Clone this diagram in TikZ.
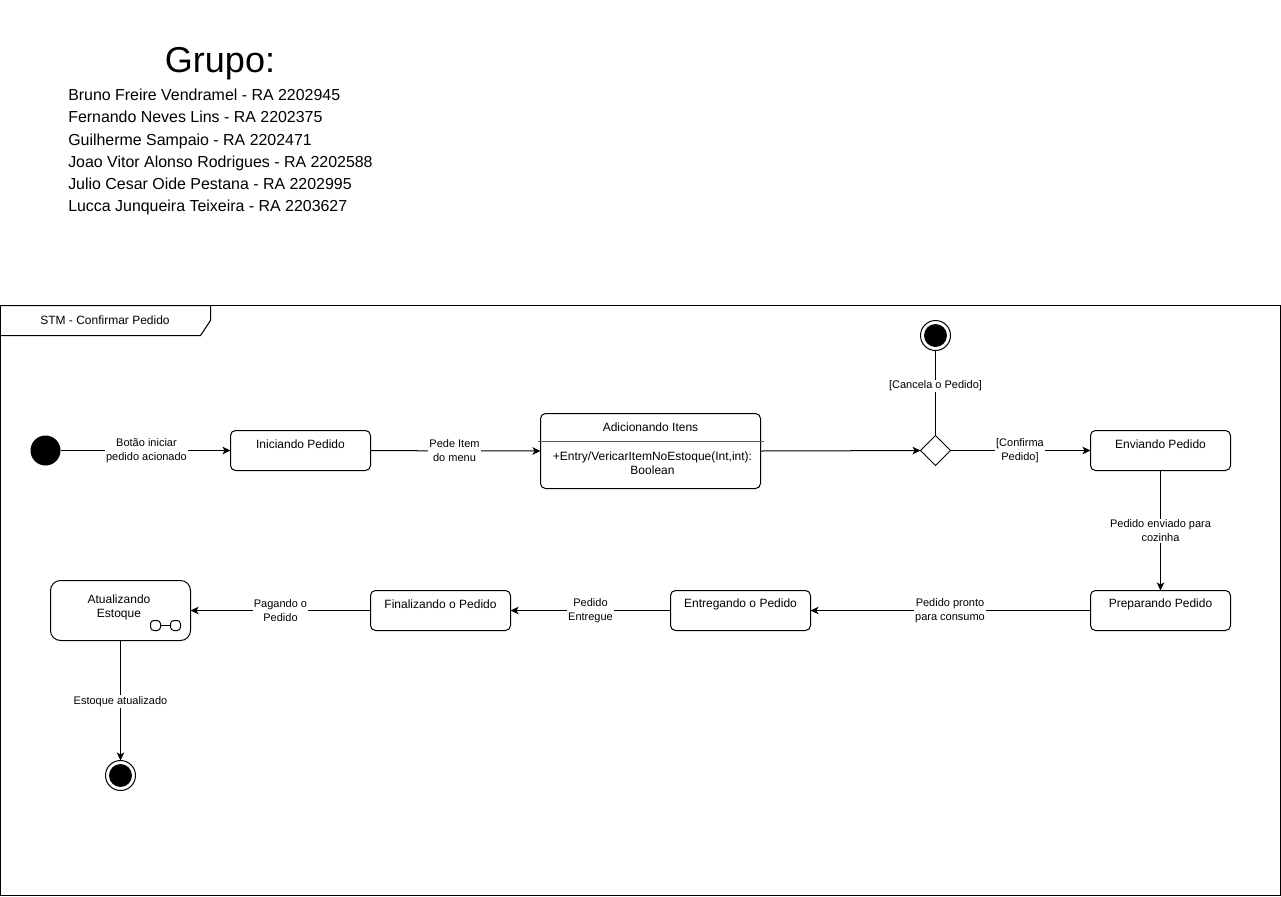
\documentclass[tikz,border=0pt]{standalone}
\usepackage{fontspec}
\setmainfont{Liberation Sans}
\usetikzlibrary{arrows.meta,shapes.geometric}
\tikzset{
  px/.style={x=0.75pt,y=-0.75pt},
  base/.style={line width=0.75pt,draw=black},
  statebox/.style={base,rectangle,rounded corners=5pt*0.75,minimum width=105pt,minimum height=30pt,inner sep=0pt,outer sep=0pt},
  boxtext/.style={font=\fontsize{9}{10.5}\selectfont,align=center,inner sep=0pt},
  edgelabel/.style={font=\fontsize{8.25}{10.5}\selectfont,align=center,fill=white,inner sep=1pt},
  conn/.style={base,-{Stealth[length=6pt,width=5.6pt,inset=1.5pt]}},
  startdot/.style={circle,fill=black,minimum size=22.5pt,inner sep=0pt,outer sep=0pt},
  enddot/.style={base,circle,fill=white,minimum size=22.5pt,inner sep=0pt,outer sep=0pt,
    path picture={\fill[black] (path picture bounding box.center) circle (8.6pt);}},
  choice/.style={base,diamond,aspect=1,fill=white,minimum size=22.5pt,inner sep=0pt,outer sep=0pt},
}
\begin{document}
\begin{tikzpicture}[px]
\useasboundingbox (0,0) rectangle (1281,896);
% header
\node[font=\fontsize{27}{32}\selectfont,inner sep=0pt] (title) at (220,64) {Grupo:};
\node[font=\fontsize{11.95}{16.65}\selectfont,align=left,anchor=west,inner sep=0pt] (members) at (68,152) {Bruno Freire Vendramel - RA 2202945\\Fernando Neves Lins - RA 2202375\\Guilherme Sampaio - RA 2202471\\Joao Vitor Alonso Rodrigues - RA 2202588\\Julio Cesar Oide Pestana - RA 2202995\\Lucca Junqueira Teixeira - RA 2203627};
% frame
\draw[base] (0.5,305.5) rectangle (1280.5,895.5);
\draw[base] (0.5,305.5) -- (210.5,305.5) -- (210.5,320.5) -- (200.5,335.5) -- (0.5,335.5);
\node[boxtext] (frametitle) at (105,320) {STM - Confirmar Pedido};
% states
\node[startdot] (start) at (45.5,450.5) {};
\node[statebox] (ini) at (300.5,450.5) {};
\node[boxtext] (initxt) at (300.5,444.5) {Iniciando Pedido};
\node[statebox,minimum width=165pt,minimum height=56.25pt] (add) at (650.5,451) {};
\node[boxtext] (addtxt) at (650.5,427) {Adicionando Itens};
\node[boxtext] (addentry) at (652.5,463.5) {+Entry/VericarItemNoEstoque(Int,int):\\Boolean};
\coordinate (sepL) at (538,441.5);
\coordinate (sepR) at (764,441.5);
\draw[line width=1.1pt,draw=black!65] (sepL) -- (sepR);
\node[choice] (dec) at (935.5,450.5) {};
\node[enddot] (end1) at (935.5,335.5) {};
\node[statebox] (env) at (1160.5,450.5) {};
\node[boxtext] (envtxt) at (1160.5,444.5) {Enviando Pedido};
\node[statebox] (pre) at (1160.5,610.5) {};
\node[boxtext] (pretxt) at (1160.5,604.5) {Preparando Pedido};
\node[statebox] (ent) at (740.5,610.5) {};
\node[boxtext] (enttxt) at (740.5,604.5) {Entregando o Pedido};
\node[statebox] (fin) at (440.5,610.5) {};
\node[boxtext] (fintxt) at (440.5,604.5) {Finalizando o Pedido};
\node[statebox,minimum height=45pt,rounded corners=7.5pt] (atu) at (120.5,610.5) {};
\node[boxtext] (atutxt) at (119,607) {Atualizando\\Estoque};
\node[enddot] (end2) at (120.5,775.5) {};
% submachine icon
\draw[base,rounded corners=2.5pt] (150.5,620.5) rectangle (160.5,630.5);
\draw[base,rounded corners=2.5pt] (170.5,620.5) rectangle (180.5,630.5);
\draw[base] (160.5,625.5) -- (170.5,625.5);
% connectors
\draw[conn] (start) -- (ini);
\draw[conn] (ini) -- (add.west);
\draw[conn] (add.east) -- (dec);
\draw[base] (dec) -- (end1);
\draw[conn] (dec) -- (env);
\draw[conn] (env) -- (pre);
\draw[conn] (pre) -- (ent);
\draw[conn] (ent) -- (fin);
\draw[conn] (fin) -- (atu);
\draw[conn] (atu) -- (end2);
% edge labels
\node[edgelabel] (l1) at (146.5,451) {Botão iniciar\\pedido acionado};
\node[edgelabel] (l2) at (454.5,451) {Pede Item\\do menu};
\node[edgelabel] (l3) at (935.5,386) {[Cancela o Pedido]};
\node[edgelabel] (l4) at (1020,451) {[Confirma\\Pedido]};
\node[edgelabel] (l5) at (1160.5,531) {Pedido enviado para\\cozinha};
\node[edgelabel] (l6) at (950,611) {Pedido pronto\\para consumo};
\node[edgelabel] (l7) at (590.5,611) {Pedido\\Entregue};
\node[edgelabel] (l8) at (280.5,611) {Pagando o\\Pedido};
\node[edgelabel] (l9) at (120.5,701.5) {Estoque atualizado};
\end{tikzpicture}
\end{document}
